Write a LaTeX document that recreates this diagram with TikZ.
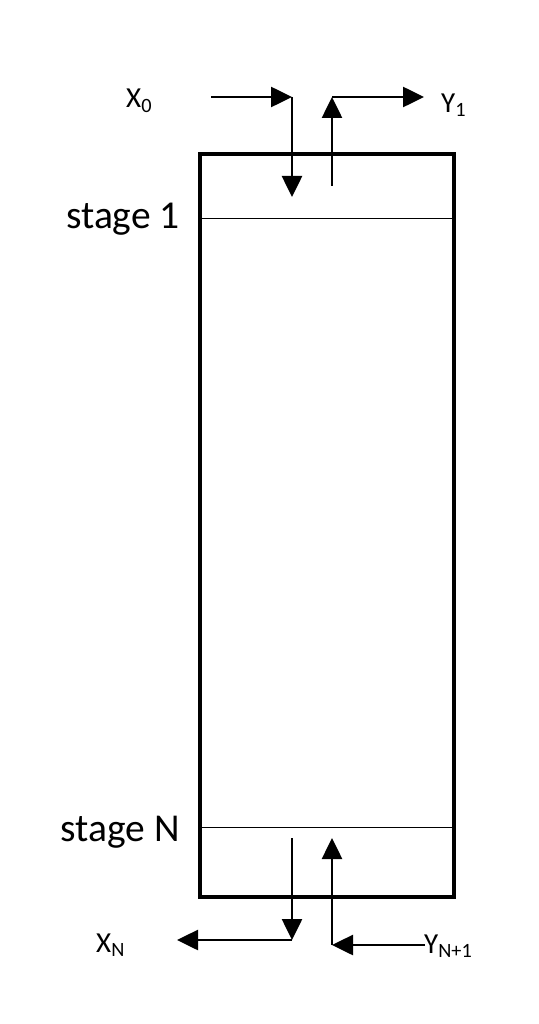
\documentclass[tikz,border=0pt]{standalone}
\usepackage{fontspec}
\setmainfont{Carlito}
\usetikzlibrary{arrows.meta}
\begin{document}
\begin{tikzpicture}[x=1pt,y=-1pt,
  flow/.style={line width=2.6pt,-{Triangle[length=21pt,width=20pt]}},
  stagelbl/.style={font=\fontsize{39.5}{42}\selectfont,anchor=east,inner sep=0pt},
  streamlbl/.style={font=\fontsize{29}{31}\selectfont,inner sep=0pt},
  tray/.style={line width=1pt}]
\useasboundingbox (0,0) rectangle (538,1024);
% column
\coordinate (tl) at (200,154);
\coordinate (br) at (454,897);
\draw[line width=4pt] (tl) rectangle (br);
\coordinate (s1l) at (200,219); \coordinate (s1r) at (454,219);
\coordinate (sNl) at (200,827); \coordinate (sNr) at (454,827);
\draw[tray] (s1l) -- (s1r);
\draw[tray] (sNl) -- (sNr);
\node[stagelbl] (st1) at (180,219) {stage 1};
\node[stagelbl] (stN) at (180,832) {stage N};
% top streams
\coordinate (x0s) at (211,97);
\coordinate (x0c) at (292,97);
\coordinate (x0e) at (292,197);
\draw[flow] (x0s) -- (x0c);
\draw[flow] (x0c) -- (x0e);
\coordinate (y1s) at (332,186);
\coordinate (y1c) at (332,97);
\coordinate (y1e) at (424,97);
\draw[flow] (y1s) -- (y1c);
\draw[flow] (y1c) -- (y1e);
\node[streamlbl,anchor=west] (X0) at (126,101) {X\textsubscript{0}};
\node[streamlbl,anchor=west] (Y1) at (441,105) {Y\textsubscript{1}};
% bottom streams
\coordinate (xNs) at (292,838);
\coordinate (xNc) at (292,940);
\coordinate (xNe) at (177,940);
\draw[flow] (xNs) -- (xNc);
\draw[flow] (xNc) -- (xNe);
\coordinate (yNs) at (425,945);
\coordinate (yNc) at (332,945);
\coordinate (yNe) at (332,838);
\draw[flow] (yNs) -- (yNc);
\draw[flow] (yNc) -- (yNe);
\node[streamlbl,anchor=west] (XN) at (96,945) {X\textsubscript{N}};
\node[streamlbl,anchor=west] (YN) at (424,946) {Y\textsubscript{N+1}};
\end{tikzpicture}
\end{document}
